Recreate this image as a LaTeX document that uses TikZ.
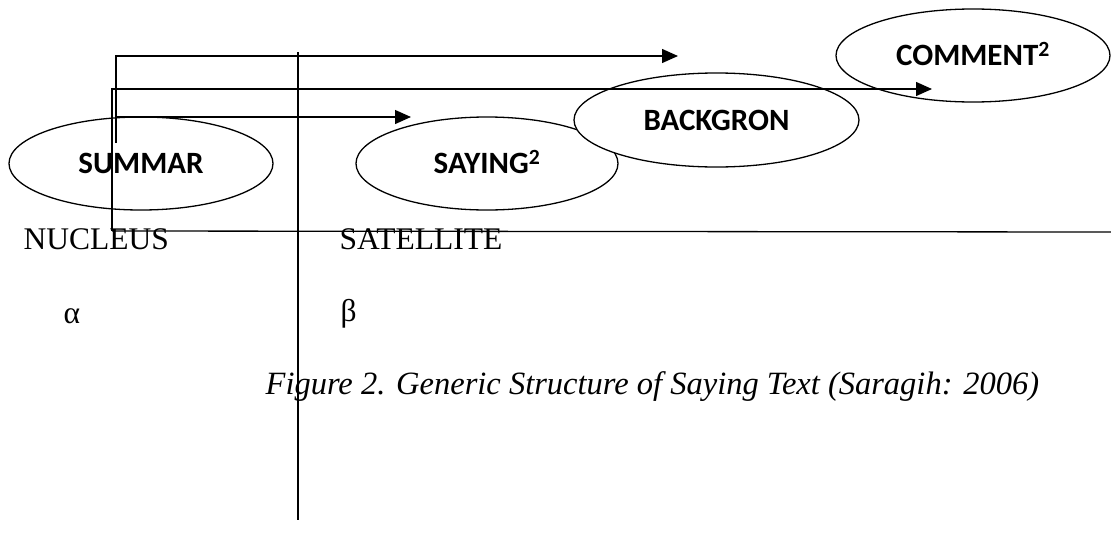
\documentclass[tikz,border=0pt]{standalone}
\usepackage{fontspec}
\setmainfont{Liberation Serif}
\newfontfamily\labelfont{Carlito}
\usetikzlibrary{shapes.geometric,arrows.meta}

\begin{document}
\begin{tikzpicture}[x=1pt,y=-1pt,line width=1.3pt,
  part/.style={ellipse, draw, fill=white, inner sep=0pt,
    font=\labelfont\bfseries\fontsize{31}{37}\selectfont,
    text height=20pt, text depth=0pt},
  word/.style={anchor=base west, inner sep=0pt,
    font=\fontsize{31.5}{38}\selectfont},
  link/.style={-{Triangle[length=16pt,width=14pt]}},
]
\useasboundingbox (0,0) rectangle (1111,533);

% stages of the text
\node[part, minimum width=264pt, minimum height=93pt] (summar) at (141,163.5) {SUMMAR};
\node[part, minimum width=262pt, minimum height=93pt] (saying) at (487,163.5) {SAYING\textsuperscript{2}};
\node[part, minimum width=285pt, minimum height=94pt] (backgron) at (716.5,120) {BACKGRON};
\node[part, minimum width=274pt, minimum height=93pt] (comment) at (973,55.5) {COMMENT\textsuperscript{2}};

% column headings and symbols
\node[word] (nucleus) at (23,249) {NUCLEUS};
\node[word] (satellite) at (339,249) {SATELLITE};
\node[word] (alpha) at (63,323) {α};
\node[word] (beta) at (340,321) {β};
\node[word, font=\itshape\fontsize{32.5}{39}\selectfont] (caption) at (265,394)
  {Figure 2. Generic Structure of Saying Text (Saragih: 2006)};

% guide lines
\coordinate (base) at (112,231);
\coordinate (baseR) at (1111,232);
\coordinate (divT) at (298,52);
\coordinate (divB) at (298,520);
\draw (base) -- (baseR);
\draw (divT) -- (divB);

% arrows
\coordinate (a1s) at (116,143);
\coordinate (a1e) at (678,56);
\coordinate (a2e) at (932,89);
\coordinate (a3s) at (116,117);
\coordinate (a3e) at (411,117);
\draw[link] (a1s) |- (a1e);
\draw[link] (base) |- (a2e);
\draw[link] (a3s) -- (a3e);
\end{tikzpicture}
\end{document}
